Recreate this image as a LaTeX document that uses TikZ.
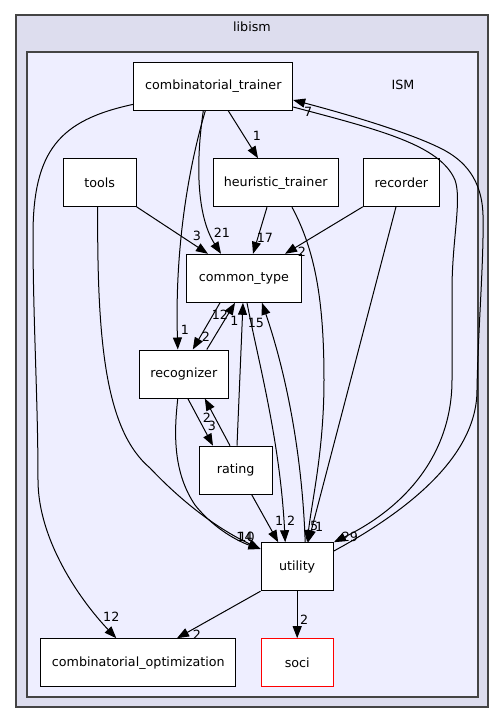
\documentclass[tikz,border=0pt]{standalone}
\usepackage{fontspec}
\setmainfont{DejaVu Sans}
\usetikzlibrary{arrows.meta}

\definecolor{libismfill}{HTML}{DDDDEE}
\definecolor{ismfill}{HTML}{EEEEFF}
\definecolor{clusterline}{HTML}{444444}

\tikzset{
	dirfont/.style={font=\fontsize{12.7}{15}\selectfont},
	dirnode/.style={dirfont, draw=black, fill=white, line width=1pt, minimum height=48pt, inner sep=0pt},
	extnode/.style={dirnode, draw=red},
	clusterbox/.style={draw=clusterline, line width=1.4pt, inner sep=0pt},
	depedge/.style={draw=black, line width=1pt, -{Triangle[length=12pt,width=9pt]}},
	deplabel/.style={dirfont, inner sep=0pt}
}

\begin{document}
\begin{tikzpicture}[x=1pt,y=-1pt]
		\useasboundingbox (0,0) rectangle (504,724);
		% clusters
		\node[clusterbox, fill=libismfill, minimum width=472pt, minimum height=692pt] (libismbox) at (252,361) {};
		\node[dirfont] (libismlabel) at (252,27) {libism};
		\node[clusterbox, line width=1.2pt, fill=ismfill, minimum width=451pt, minimum height=645pt] (ismbox) at (252.5,374.5) {};
		\node[dirfont] (ismlabel) at (403,85) {ISM};
		% directories
		\node[dirnode, minimum width=158.7pt] (combtrainer) at (213.3,86.3) {combinatorial\_trainer};
		\node[dirnode, minimum width=72.7pt] (tools) at (99.7,182.3) {tools};
		\node[dirnode, minimum width=124.7pt] (heurtrainer) at (275.7,182.7) {heuristic\_trainer};
		\node[dirnode, minimum width=76pt] (recorder) at (401.3,182.3) {recorder};
		\node[dirnode, minimum width=114.7pt] (commontype) at (244,278.3) {common\_type};
		\node[dirnode, minimum width=89pt] (recognizer) at (183.8,374) {recognizer};
		\node[dirnode, minimum width=72.7pt] (rating) at (235.7,470.2) {rating};
		\node[dirnode, minimum width=72.3pt] (utility) at (297.2,566.7) {utility};
		\node[dirnode, minimum width=195.3pt] (combopt) at (138.3,662.7) {combinatorial\_optimization};
		\node[extnode, minimum width=72.3pt] (soci) at (297.2,662.7) {soci};
		% dependencies
		\draw[depedge] ([xshift=15pt]combtrainer.south) -- ([xshift=-17.7pt]heurtrainer.north) node[deplabel, shift={(-1,-22)}] {1};
		\draw[depedge] ([xshift=-10pt]combtrainer.south) .. controls (196,160) and (196,215) .. ([xshift=-23pt]commontype.north) node[deplabel, shift={(1,-21)}] {21};
		\draw[depedge] ([xshift=-8pt]combtrainer.south) .. controls (185,180) and (175,260) .. ([xshift=-6pt]recognizer.north) node[deplabel, shift={(7,-20)}] {1};
		\draw[depedge] ([yshift=-18pt]combtrainer.west) .. controls (60,120) and (33,150) .. (33,235) .. controls (33,320) and (38,400) .. (38,480) .. controls (38,540) and (80,600) .. ([xshift=-22pt]combopt.north) node[deplabel, shift={(-5,-21)}] {12};
		\draw[depedge] ([yshift=-20.7pt]combtrainer.east) .. controls (380,130) and (440,145) .. (455,180) .. controls (462,200) and (452,240) .. (452,290) -- (452,380) .. controls (452,450) and (410,505) .. (utility.north east) node[deplabel, shift={(16,-5)}] {29};
		\draw[depedge] ([yshift=15.7pt]utility.east) .. controls (400,515) and (477,460) .. (477,390) .. controls (478,330) and (484,260) .. (483,215) .. controls (482,180) and (465,160) .. (440,148) .. controls (410,133) and (350,115) .. ([yshift=-13.7pt]combtrainer.east) node[deplabel, shift={(15,12)}] {7};
		\draw[depedge] (tools.south east) -- ([xshift=-36pt]commontype.north) node[deplabel, shift={(-11,-18)}] {3};
		\draw[depedge] ([xshift=-2pt]tools.south) .. controls (97,340) and (105,430) .. (150,468) .. controls (185,505) and (220,530) .. ([yshift=17.7pt]utility.west) node[deplabel, shift={(-14,-12)}] {10};
		\draw[depedge] ([xshift=-6pt]recognizer.south) .. controls (173,440) and (175,475) .. (195,505) .. controls (215,530) and (240,542) .. ([yshift=17.7pt]utility.west) node[deplabel, shift={(-16,-12)}] {14};
		\draw[depedge] ([xshift=-8.7pt]heurtrainer.south) -- ([xshift=9pt]commontype.north) node[deplabel, shift={(12,-16)}] {17};
		\draw[depedge] ([xshift=16.3pt]heurtrainer.south) .. controls (315,250) and (324,300) .. (324,380) .. controls (324,450) and (312,500) .. ([xshift=10pt]utility.north) node[deplabel, shift={(7,-16)}] {5};
		\draw[depedge] (recorder.south west) -- ([xshift=41pt]commontype.north) node[deplabel, shift={(17,-2)}] {2};
		\draw[depedge] ([xshift=-5.3pt]recorder.south) -- ([xshift=11pt]utility.north) node[deplabel, shift={(11,-15)}] {1};
		\draw[depedge] ([xshift=-24pt]commontype.south) -- ([xshift=9pt]recognizer.north) node[deplabel, shift={(13,-13)}] {2};
		\draw[depedge] ([xshift=23pt]recognizer.north) -- ([xshift=-9pt]commontype.south) node[deplabel, shift={(-15,12)}] {12};
		\draw[depedge] ([xshift=1.3pt]rating.north) -- ([xshift=-1pt]commontype.south) node[deplabel, shift={(-8.5,18)}] {1};
		\draw[depedge] ([xshift=3pt]commontype.south) .. controls (258,360) and (280,440) .. ([xshift=-12pt]utility.north) node[deplabel, shift={(6,-21)}] {2};
		\draw[depedge] ([xshift=8pt]utility.north) .. controls (302,450) and (285,370) .. ([xshift=18pt]commontype.south) node[deplabel, shift={(-6,20)}] {15};
		\draw[depedge] ([xshift=4pt]recognizer.south) -- ([xshift=-22.7pt]rating.north) node[deplabel, shift={(-1,-20)}] {3};
		\draw[depedge] ([xshift=-5.7pt]rating.north) -- ([xshift=21pt]recognizer.south) node[deplabel, shift={(2,19)}] {2};
		\draw[depedge] ([xshift=16pt]rating.south) -- ([xshift=-19pt]utility.north) node[deplabel, shift={(1,-21)}] {1};
		\draw[depedge] (utility.south west) -- ([xshift=38.7pt]combopt.north) node[deplabel, shift={(20,-3)}] {2};
		\draw[depedge] (utility.south) -- (soci.north) node[deplabel, shift={(7,-18)}] {2};
\end{tikzpicture}
\end{document}
